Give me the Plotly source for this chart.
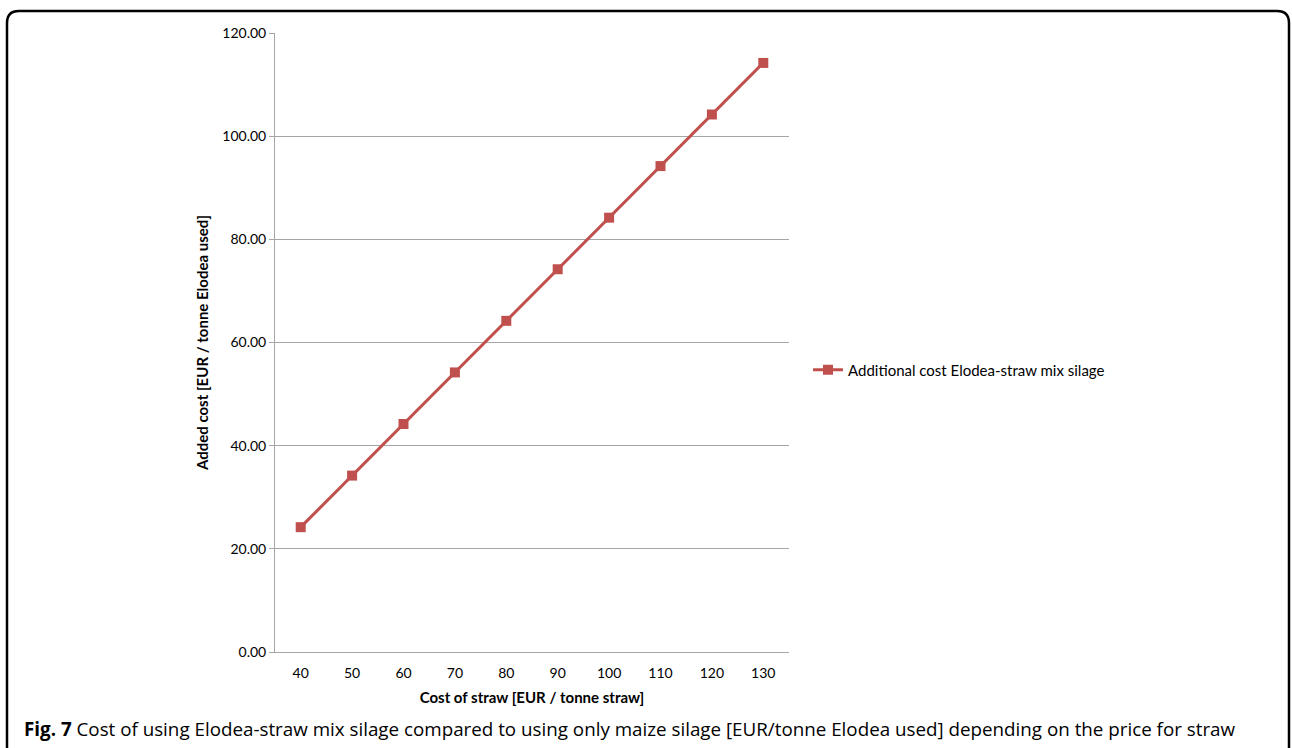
import plotly.graph_objects as go

straw_cost = [40, 50, 60, 70, 80, 90, 100, 110, 120, 130]
added_cost = [24.2, 34.2, 44.2, 54.2, 64.2, 74.2, 84.2, 94.2, 104.2, 114.2]
series_name = "Additional cost Elodea-straw mix silage"
x_title = "Cost of straw [EUR / tonne straw]"
y_title = "Added cost [EUR / tonne Elodea used]"
caption_bold = "Fig. 7"
caption_text = " Cost of using Elodea-straw mix silage compared to using only maize silage [EUR/tonne Elodea used] depending on the price for straw"

W, H = 1292, 748
L, R, T, B = 275, 789, 33, 652

def px(x):
    return (x - L) / (R - L)

def py(y):
    return (B - y) / (B - T)

fig = go.Figure()
fig.add_trace(go.Scatter(
    x=[str(v) for v in straw_cost], y=added_cost, mode="lines+markers",
    name=series_name,
    line=dict(color="#C0504D", width=3),
    marker=dict(symbol="square", size=10, color="#C0504D"),
))

# rounded frame
x0, x1, y0, y1, r = 7, 1289, 11, 770, 12
path = (f"M {px(x0)},{py(y1)} L {px(x0)},{py(y0+r)} Q {px(x0)},{py(y0)} {px(x0+r)},{py(y0)} "
        f"L {px(x1-r)},{py(y0)} Q {px(x1)},{py(y0)} {px(x1)},{py(y0+r)} L {px(x1)},{py(y1)}")

fig.update_layout(
    width=W, height=H,
    margin=dict(l=L, r=W - R, t=T, b=H - B),
    paper_bgcolor="white", plot_bgcolor="white",
    font=dict(family="Lato, Open Sans, sans-serif", size=14, color="black"),
    showlegend=True,
    legend=dict(x=px(808), y=py(370), xanchor="left", yanchor="middle",
                font=dict(size=15), bgcolor="rgba(0,0,0,0)"),
    xaxis=dict(type="category", range=[-0.5, len(straw_cost) - 0.5],
               showline=True, linecolor="#a6a6a6", linewidth=1,
               showgrid=False, ticks="", tickfont=dict(size=14), ticklabelstandoff=8,
               title=dict(text=f"<b>{x_title}</b>", font=dict(size=15), standoff=12)),
    yaxis=dict(range=[0, 120], dtick=20, tickformat=".2f", showline=True,
               linecolor="#a6a6a6", linewidth=1, showgrid=True, gridcolor="#a6a6a6",
               gridwidth=1, ticks="outside", ticklen=5, tickcolor="#a6a6a6",
               zeroline=False, tickfont=dict(size=14),
               title=dict(text=f"<b>{y_title}</b>", font=dict(size=15), standoff=10)),
    shapes=[dict(type="path", path=path, xref="paper", yref="paper",
                 line=dict(color="black", width=2.5), layer="above")],
    annotations=[dict(x=px(22), y=py(729), xref="paper", yref="paper",
                      xanchor="left", yanchor="middle", showarrow=False,
                      text=f"<b>{caption_bold}</b>{caption_text}",
                      font=dict(family="Open Sans, sans-serif", size=18.8, color="black"))],
)

fig.write_html("out.html", config={"displayModeBar": False},
               post_script="document.body.style.margin='0';document.body.style.overflow='hidden';")
